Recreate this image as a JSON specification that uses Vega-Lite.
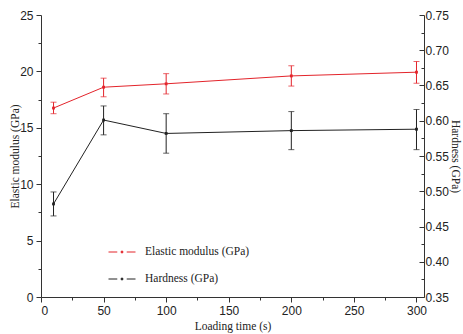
{
  "$schema": "https://vega.github.io/schema/vega-lite/v6.json",
  "width": 383,
  "height": 282,
  "autosize": "none",
  "padding": {"left": 41, "top": 15, "right": 39, "bottom": 37},
  "config": {
    "view": {"stroke": null},
    "axis": {
      "domainColor": "#333",
      "tickColor": "#333",
      "labelFont": "Liberation Sans",
      "labelFontSize": 12,
      "labelColor": "#222",
      "titleFont": "Liberation Serif",
      "titleFontSize": 11.5,
      "titleFontWeight": "normal",
      "titleColor": "#222",
      "grid": false
    }
  },
  "data": {
    "values": [
      {"t": 10, "s": "Elastic modulus (GPa)", "v": 16.75, "lo": 16.25, "hi": 17.27},
      {"t": 50, "s": "Elastic modulus (GPa)", "v": 18.6, "lo": 17.75, "hi": 19.4},
      {"t": 100, "s": "Elastic modulus (GPa)", "v": 18.9, "lo": 18.0, "hi": 19.8},
      {"t": 200, "s": "Elastic modulus (GPa)", "v": 19.6, "lo": 18.7, "hi": 20.5},
      {"t": 300, "s": "Elastic modulus (GPa)", "v": 19.93, "lo": 18.95, "hi": 20.88},
      {"t": 10, "s": "Hardness (GPa)", "v": 0.482, "lo": 0.465, "hi": 0.499},
      {"t": 50, "s": "Hardness (GPa)", "v": 0.601, "lo": 0.58, "hi": 0.621},
      {"t": 100, "s": "Hardness (GPa)", "v": 0.582, "lo": 0.554, "hi": 0.61},
      {"t": 200, "s": "Hardness (GPa)", "v": 0.586, "lo": 0.559, "hi": 0.613},
      {"t": 300, "s": "Hardness (GPa)", "v": 0.588, "lo": 0.559, "hi": 0.616}
    ]
  },
  "encoding": {
    "x": {
      "field": "t",
      "type": "quantitative",
      "scale": {"domain": [0, 306], "nice": false},
      "axis": {
        "title": "Loading time (s)",
        "values": [0, 25, 50, 75, 100, 125, 150, 175, 200, 225, 250, 275, 300],
        "labelExpr": "datum.value % 50 === 0 ? datum.label : ''",
        "tickSize": {"condition": {"test": "datum.value % 50 === 0", "value": 5}, "value": 3},
        "labelPadding": 3,
        "titlePadding": 4
      }
    },
    "color": {
      "field": "s",
      "type": "nominal",
      "scale": {"domain": ["Elastic modulus (GPa)", "Hardness (GPa)"], "range": ["#e3242b", "#222222"]},
      "legend": {
        "title": null,
        "orient": "none",
        "legendX": 67,
        "legendY": 223,
        "symbolType": "M-1,0H-0.35M0.35,0H1M-0.06,-0.06H0.06V0.06H-0.06Z",
        "symbolSize": 729,
        "symbolStrokeWidth": 1,
        "labelFont": "Liberation Serif",
        "labelFontSize": 11.5,
        "labelColor": "#222",
        "labelOffset": 9,
        "rowPadding": 7,
        "encode": {"symbols": {"update": {"fill": {"scale": "color", "field": "value"}, "stroke": {"scale": "color", "field": "value"}}}}
      }
    }
  },
  "layer": [
    {
      "transform": [{"filter": "datum.s === 'Elastic modulus (GPa)'"}],
      "encoding": {
        "y": {
          "field": "v",
          "type": "quantitative",
          "scale": {"domain": [0, 25], "nice": false},
          "axis": {
            "title": "Elastic modulus (GPa)",
            "orient": "left",
            "values": [0, 2.5, 5, 7.5, 10, 12.5, 15, 17.5, 20, 22.5, 25],
            "labelExpr": "datum.value % 5 === 0 ? datum.label : ''",
            "tickSize": {"condition": {"test": "datum.value % 5 === 0", "value": 5}, "value": 3},
            "labelPadding": 3,
            "titlePadding": -1
          }
        }
      },
      "layer": [
        {"mark": {"type": "line", "strokeWidth": 1}},
        {"mark": {"type": "errorbar", "ticks": {"size": 6}, "thickness": 1}, "encoding": {"y": {"field": "lo", "type": "quantitative"}, "y2": {"field": "hi"}}},
        {"mark": {"type": "point", "shape": "square", "size": 8, "filled": true, "opacity": 1}}
      ]
    },
    {
      "transform": [{"filter": "datum.s === 'Hardness (GPa)'"}],
      "encoding": {
        "y": {
          "field": "v",
          "type": "quantitative",
          "scale": {"domain": [0.35, 0.75], "nice": false, "zero": false},
          "axis": {
            "title": "Hardness (GPa)",
            "orient": "right",
            "format": ".2f",
            "values": [0.35, 0.375, 0.4, 0.425, 0.45, 0.475, 0.5, 0.525, 0.55, 0.575, 0.6, 0.625, 0.65, 0.675, 0.7, 0.725, 0.75],
            "labelExpr": "round(datum.value * 1000) % 50 === 0 ? datum.label : ''",
            "tickSize": {"condition": {"test": "round(datum.value * 1000) % 50 === 0", "value": -5}, "value": -3},
            "labelPadding": 6,
            "titlePadding": 1
          }
        }
      },
      "layer": [
        {"mark": {"type": "line", "strokeWidth": 1}},
        {"mark": {"type": "errorbar", "ticks": {"size": 6}, "thickness": 1}, "encoding": {"y": {"field": "lo", "type": "quantitative"}, "y2": {"field": "hi"}}},
        {"mark": {"type": "point", "shape": "square", "size": 8, "filled": true, "opacity": 1}}
      ]
    }
  ],
  "resolve": {"scale": {"y": "independent"}}
}
